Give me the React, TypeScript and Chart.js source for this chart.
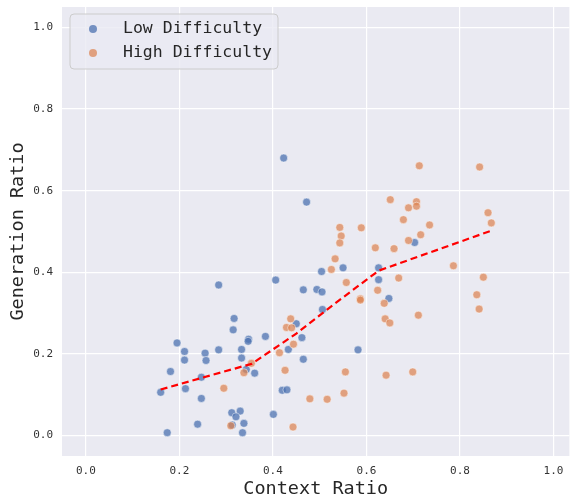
import React, { useEffect, useRef } from "react";
import { Chart, registerables } from "chart.js";

Chart.register(...registerables);

const lowX = [0.423, 0.472, 0.504, 0.284, 0.406, 0.465, 0.494, 0.505, 0.506, 0.450, 0.462, 0.433, 0.465, 0.420, 0.430, 0.401, 0.317, 0.315, 0.348, 0.347, 0.384, 0.195, 0.211, 0.211, 0.255, 0.257, 0.284, 0.333, 0.333, 0.343, 0.361, 0.181, 0.247, 0.160, 0.213, 0.247, 0.312, 0.330, 0.321, 0.313, 0.338, 0.335, 0.239, 0.174, 0.703, 0.550, 0.626, 0.626, 0.648, 0.582];
const lowY = [0.680, 0.572, 0.402, 0.369, 0.381, 0.357, 0.358, 0.352, 0.309, 0.274, 0.240, 0.211, 0.187, 0.111, 0.112, 0.052, 0.287, 0.259, 0.236, 0.231, 0.243, 0.227, 0.206, 0.185, 0.202, 0.184, 0.210, 0.211, 0.190, 0.162, 0.153, 0.157, 0.143, 0.106, 0.115, 0.091, 0.056, 0.060, 0.046, 0.026, 0.030, 0.007, 0.028, 0.007, 0.473, 0.411, 0.411, 0.382, 0.336, 0.210];

const highX = [0.533, 0.525, 0.438, 0.429, 0.440, 0.444, 0.414, 0.426, 0.479, 0.516, 0.443, 0.354, 0.338, 0.295, 0.310, 0.713, 0.842, 0.651, 0.707, 0.707, 0.690, 0.679, 0.860, 0.867, 0.735, 0.543, 0.589, 0.546, 0.543, 0.716, 0.690, 0.619, 0.659, 0.786, 0.557, 0.669, 0.850, 0.624, 0.836, 0.587, 0.587, 0.638, 0.640, 0.650, 0.711, 0.841, 0.555, 0.699, 0.642, 0.552];
const highY = [0.433, 0.407, 0.286, 0.265, 0.264, 0.224, 0.203, 0.160, 0.090, 0.089, 0.021, 0.177, 0.154, 0.116, 0.024, 0.661, 0.658, 0.578, 0.573, 0.562, 0.558, 0.529, 0.546, 0.521, 0.516, 0.510, 0.509, 0.489, 0.472, 0.492, 0.478, 0.460, 0.458, 0.416, 0.375, 0.386, 0.388, 0.356, 0.345, 0.335, 0.332, 0.324, 0.286, 0.276, 0.295, 0.310, 0.156, 0.156, 0.148, 0.104];

const trendX = [0.16, 0.355, 0.45, 0.54, 0.626, 0.867];
const trendY = [0.113, 0.176, 0.25, 0.33, 0.404, 0.502];

const tickValues = [0, 0.2, 0.4, 0.6, 0.8, 1.0];
const seriesNames = ["Low Difficulty", "High Difficulty"];
const xTitle = "Context Ratio";
const yTitle = "Generation Ratio";

const BLUE = "rgba(76,114,176,0.75)";
const ORANGE = "rgba(221,132,82,0.72)";
const MONO = "'DejaVu Sans Mono', monospace";

const zip = (xs: number[], ys: number[]) => xs.map((x, i) => ({ x, y: ys[i] }));

const bgPlugin = {
  id: "plotBg",
  beforeDraw(chart: any) {
    const { ctx, chartArea } = chart;
    ctx.save();
    ctx.fillStyle = "#EAEAF2";
    ctx.fillRect(chartArea.left, chartArea.top, chartArea.right - chartArea.left, chartArea.bottom - chartArea.top);
    ctx.restore();
  },
};

const legendPlugin = {
  id: "boxLegend",
  afterDraw(chart: any) {
    const { ctx } = chart;
    ctx.save();
    const x = 70, y = 14, w = 208, h = 55, r = 4;
    ctx.beginPath();
    ctx.moveTo(x + r, y);
    ctx.arcTo(x + w, y, x + w, y + h, r);
    ctx.arcTo(x + w, y + h, x, y + h, r);
    ctx.arcTo(x, y + h, x, y, r);
    ctx.arcTo(x, y, x + w, y, r);
    ctx.closePath();
    ctx.fillStyle = "rgba(234,234,242,0.8)";
    ctx.fill();
    ctx.strokeStyle = "#CCCCCC";
    ctx.lineWidth = 1;
    ctx.stroke();
    const colors = [BLUE, ORANGE];
    seriesNames.forEach((name, i) => {
      const cy = 29 + i * 24;
      ctx.beginPath();
      ctx.arc(93, cy, 4, 0, Math.PI * 2);
      ctx.fillStyle = colors[i];
      ctx.fill();
      ctx.fillStyle = "#262626";
      ctx.font = `16.5px ${MONO}`;
      ctx.textBaseline = "middle";
      ctx.textAlign = "left";
      ctx.fillText(name, 123, cy);
    });
    ctx.restore();
  },
};

const zeroPad = (scale: any) => {
  scale.paddingTop = 0;
  scale.paddingBottom = 0;
  scale.paddingLeft = 0;
  scale.paddingRight = 0;
};

export default function App() {
  const ref = useRef<HTMLCanvasElement>(null);
  useEffect(() => {
    if (!ref.current) return;
    const chart = new Chart(ref.current, {
      type: "scatter",
      data: {
        datasets: [
          {
            type: "line",
            label: "trend",
            data: zip(trendX, trendY),
            borderColor: "#FF0000",
            borderWidth: 2.2,
            borderDash: [7, 4],
            pointRadius: 0,
            fill: false,
            tension: 0,
          } as any,
          {
            label: seriesNames[1],
            data: zip(highX, highY),
            backgroundColor: ORANGE,
            borderColor: "rgba(255,255,255,0.8)",
            borderWidth: 0.6,
            pointRadius: 4,
          },
          {
            label: seriesNames[0],
            data: zip(lowX, lowY),
            backgroundColor: BLUE,
            borderColor: "rgba(255,255,255,0.8)",
            borderWidth: 0.6,
            pointRadius: 4,
          },
        ],
      },
      options: {
        responsive: false,
        animation: false,
        layout: { padding: { left: 0, top: 7, right: -1, bottom: 0 } },
        plugins: { legend: { display: false }, tooltip: { enabled: false } },
        scales: {
          x: {
            type: "linear",
            min: -0.051,
            max: 1.034,
            afterBuildTicks: (axis: any) => {
              axis.ticks = tickValues.map((v) => ({ value: v }));
            },
            afterFit: (scale: any) => {
              scale.height = 43;
              zeroPad(scale);
            },
            grid: { color: "#FFFFFF", lineWidth: 1.2, drawTicks: false },
            border: { display: false },
            ticks: {
              padding: 9,
              color: "#333333",
              font: { family: MONO, size: 11 },
              callback: (v: any) => Number(v).toFixed(1),
            },
            title: {
              display: true,
              text: xTitle,
              color: "#262626",
              font: { family: MONO, size: 18.5 },
              padding: { top: 0, bottom: -1 },
            },
          },
          y: {
            type: "linear",
            min: -0.05,
            max: 1.05,
            afterBuildTicks: (axis: any) => {
              axis.ticks = tickValues.map((v) => ({ value: v }));
            },
            afterFit: (scale: any) => {
              scale.width = 62;
              zeroPad(scale);
            },
            grid: { color: "#FFFFFF", lineWidth: 1.2, drawTicks: false },
            border: { display: false },
            ticks: {
              padding: 9,
              color: "#333333",
              font: { family: MONO, size: 11 },
              callback: (v: any) => Number(v).toFixed(1),
            },
            title: {
              display: true,
              text: yTitle,
              color: "#262626",
              font: { family: MONO, size: 18.5 },
              padding: { top: 7, bottom: 0 },
            },
          },
        },
      },
      plugins: [bgPlugin, legendPlugin],
    });
    return () => chart.destroy();
  }, []);
  return (
    <div style={{ position: "absolute", left: 0, top: 0, width: 574, height: 499, background: "#fff" }}>
      <canvas ref={ref} width={574} height={499} style={{ width: 574, height: 499, display: "block" }} />
    </div>
  );
}
